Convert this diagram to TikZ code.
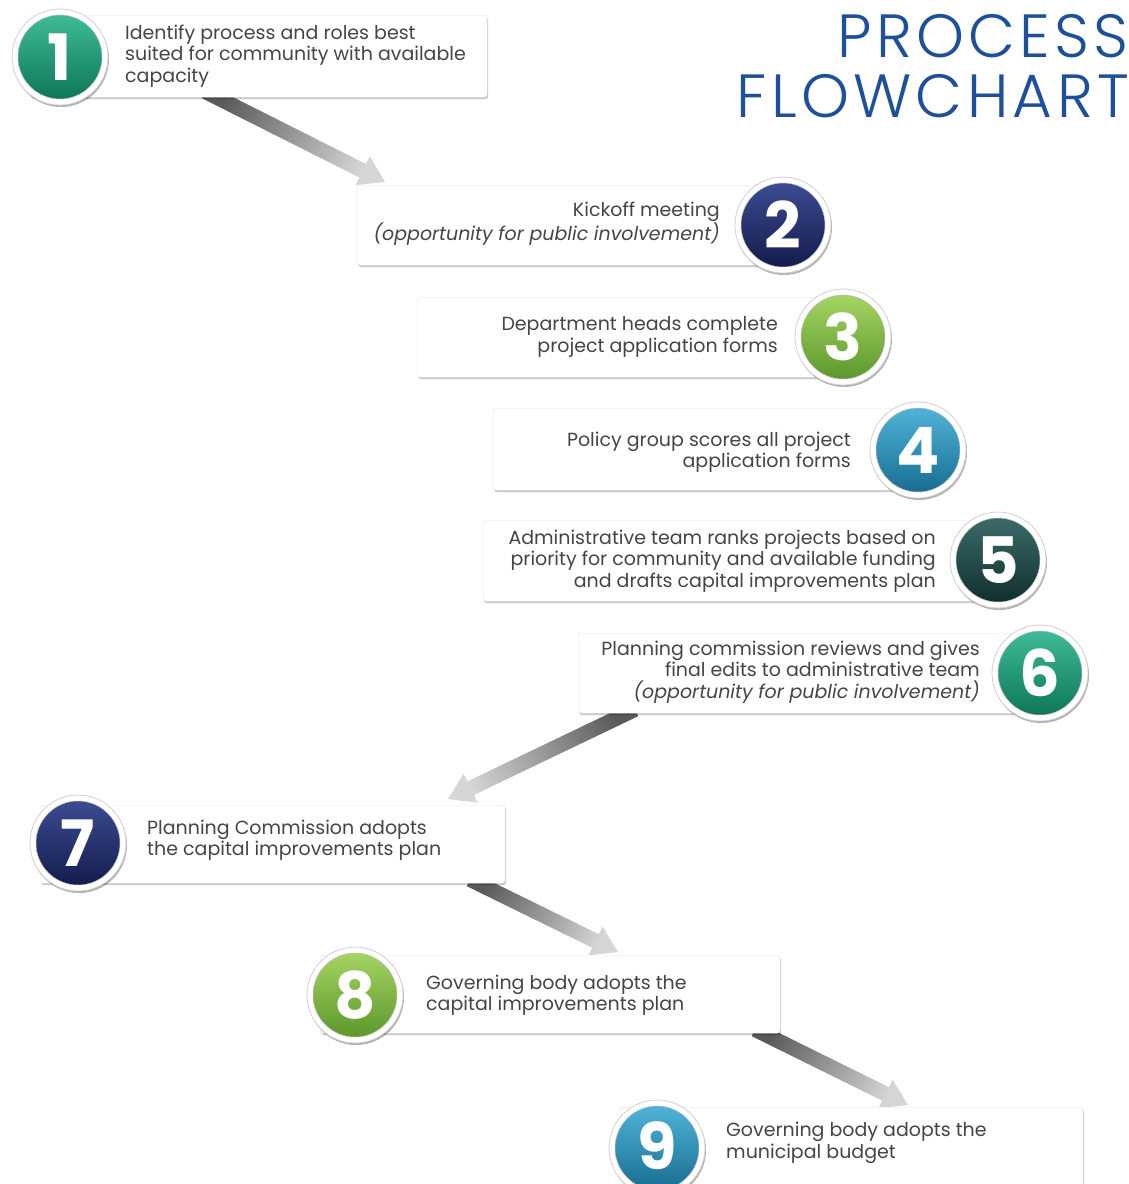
\documentclass[tikz,border=0pt]{standalone}
\usepackage{fontspec}
\setmainfont{Poppins}
\newfontfamily\titlefont{Poppins}[UprightFont={* Light}, LetterSpace=7]
\usetikzlibrary{calc,shadows,backgrounds}
\definecolor{titleblue}{HTML}{1D4F9A}
\definecolor{txtgray}{HTML}{454545}
\definecolor{arrowdark}{HTML}{5A5A5A}
\definecolor{arrowlight}{HTML}{D6D6D6}
\definecolor{tealT}{HTML}{3DBB97}\definecolor{tealB}{HTML}{0E7758}
\definecolor{navyT}{HTML}{3B4B92}\definecolor{navyB}{HTML}{141C4C}
\definecolor{limeT}{HTML}{A5D462}\definecolor{limeB}{HTML}{5C982C}
\definecolor{blueT}{HTML}{4FB3D7}\definecolor{blueB}{HTML}{186E92}
\definecolor{dtealT}{HTML}{3A6B68}\definecolor{dtealB}{HTML}{112F2F}
\tikzset{
  stepbox/.style={fill=white, draw=black!10, rounded corners=3pt, anchor=north west,
    drop shadow={shadow xshift=1pt, shadow yshift=-2pt, opacity=.22, fill=black}, inner sep=0pt},
  ring/.style={circle, fill=white, draw=black!18, line width=0.8pt, minimum size=96pt, inner sep=0pt,
    drop shadow={shadow xshift=1pt, shadow yshift=-2pt, opacity=.3, fill=black}},
  disc/.style={circle, minimum size=84pt, inner sep=0pt, draw=black!25, line width=0.5pt},
  digit/.style={text=white, font=\fontsize{64}{64}\selectfont\bfseries, inner sep=0pt},
  steptext/.style={text=txtgray, font=\fontsize{19}{21.5}\selectfont, inner sep=0pt},
  titletext/.style={text=titleblue, font=\titlefont\fontsize{61}{61}\selectfont, inner sep=0pt, anchor=base east}
}
\newcommand\fatarrow[3]{%
  \coordinate (#1-h) at ($(#2)!25pt!(#1)$);
  \shade[top color=arrowdark, bottom color=arrowlight, shading angle=#3]
    ($(#1)!7.5pt!90:(#2)$) -- ($(#1-h)!7.5pt!90:(#2)$) -- ($(#1-h)!16pt!90:(#2)$) --
    (#2) -- ($(#1-h)!16pt!-90:(#2)$) -- ($(#1-h)!7.5pt!-90:(#2)$) -- ($(#1)!7.5pt!-90:(#2)$) -- cycle;}
\begin{document}
\begin{tikzpicture}[x=1pt, y=-1pt]
\useasboundingbox (0,0) rectangle (1129,1184);
\clip (0,0) rectangle (1129,1184);

% title
\node[titletext] (title1) at (1129,57) {PROCESS};
\node[titletext] (title2) at (1129,117) {FLOWCHART};

% boxes
\node[stepbox, minimum width=457pt, minimum height=82pt] (b1) at (30,15) {};
\node[stepbox, minimum width=433pt, minimum height=80pt] (b2) at (357,185) {};
\node[stepbox, minimum width=433pt, minimum height=80pt] (b3) at (417,297) {};
\node[stepbox, minimum width=432pt, minimum height=82pt] (b4) at (493,408) {};
\node[stepbox, minimum width=522pt, minimum height=81pt] (b5) at (483,520) {};
\node[stepbox, minimum width=467pt, minimum height=80pt] (b6) at (578,633) {};
\node[stepbox, minimum width=465pt, minimum height=78pt] (b7) at (40,805) {};
\node[stepbox, minimum width=460pt, minimum height=78pt] (b8) at (320,955) {};
\node[stepbox, minimum width=463pt, minimum height=85pt] (b9) at (620,1107) {};

% arrows (behind the boxes)
\coordinate (a1s) at ($(b1.south west)+(175,-6)$);
\coordinate (a1e) at ($(b2.north west)+(28,-3)$);
\coordinate (a2s) at ($(b6.south west)+(57,-4)$);
\coordinate (a2e) at ($(b7.north west)+(408,-6)$);
\coordinate (a3s) at ($(b7.south west)+(430,-4)$);
\coordinate (a3e) at ($(b8.north west)+(298,-3)$);
\coordinate (a4s) at ($(b8.south west)+(435,-4)$);
\coordinate (a4e) at ($(b9.north west)+(288,-2)$);
\begin{scope}[on background layer]
\fatarrow{a1s}{a1e}{64.1}
\fatarrow{a2s}{a2e}{295.7}
\fatarrow{a3s}{a3e}{64.1}
\fatarrow{a4s}{a4e}{63.9}
\end{scope}

% circles
\node[ring] (r1) at (60,57) {};
\node[disc, top color=tealT, bottom color=tealB] (d1) at (r1) {};
\node[digit] (n1) at (r1) {1};
\node[ring] (r2) at (783,225) {};
\node[disc, top color=navyT, bottom color=navyB] (d2) at (r2) {};
\node[digit] (n2) at (r2) {2};
\node[ring] (r3) at (843,337) {};
\node[disc, top color=limeT, bottom color=limeB] (d3) at (r3) {};
\node[digit] (n3) at (r3) {3};
\node[ring] (r4) at (918,450) {};
\node[disc, top color=blueT, bottom color=blueB] (d4) at (r4) {};
\node[digit] (n4) at (r4) {4};
\node[ring] (r5) at (998,560) {};
\node[disc, top color=dtealT, bottom color=dtealB] (d5) at (r5) {};
\node[digit] (n5) at (r5) {5};
\node[ring] (r6) at (1040,673) {};
\node[disc, top color=tealT, bottom color=tealB] (d6) at (r6) {};
\node[digit] (n6) at (r6) {6};
\node[ring] (r7) at (78,843) {};
\node[disc, top color=navyT, bottom color=navyB] (d7) at (r7) {};
\node[digit] (n7) at (r7) {7};
\node[ring] (r8) at (355,995) {};
\node[disc, top color=limeT, bottom color=limeB] (d8) at (r8) {};
\node[digit] (n8) at (r8) {8};
\node[ring] (r9) at (657,1148) {};
\node[disc, top color=blueT, bottom color=blueB] (d9) at (r9) {};
\node[digit] (n9) at ($(r9)+(0,-2)$) {9};

% texts
\node[steptext, anchor=west, align=left] (t1) at (125,56)
  {Identify process and roles best\\suited for community with available\\capacity};
\node[steptext, anchor=east, align=right] (t2) at (720,224)
  {Kickoff meeting\\\textit{(opportunity for public involvement)}};
\node[steptext, anchor=east, align=right] (t3) at (778,337)
  {Department heads complete\\project application forms};
\node[steptext, anchor=east, align=right] (t4) at (851,452)
  {Policy group scores all project\\application forms};
\node[steptext, anchor=east, align=right] (t5) at (936,561)
  {Administrative team ranks projects based on\\priority for community and available funding\\and drafts capital improvements plan};
\node[steptext, anchor=east, align=right] (t6) at (980,672)
  {Planning commission reviews and gives\\final edits to administrative team\\\textit{(opportunity for public involvement)}};
\node[steptext, anchor=west, align=left] (t7) at (147,840)
  {Planning Commission adopts\\the capital improvements plan};
\node[steptext, anchor=west, align=left] (t8) at (426,995)
  {Governing body adopts the\\capital improvements plan};
\node[steptext, anchor=west, align=left] (t9) at (726,1143)
  {Governing body adopts the\\municipal budget};
\end{tikzpicture}
\end{document}
